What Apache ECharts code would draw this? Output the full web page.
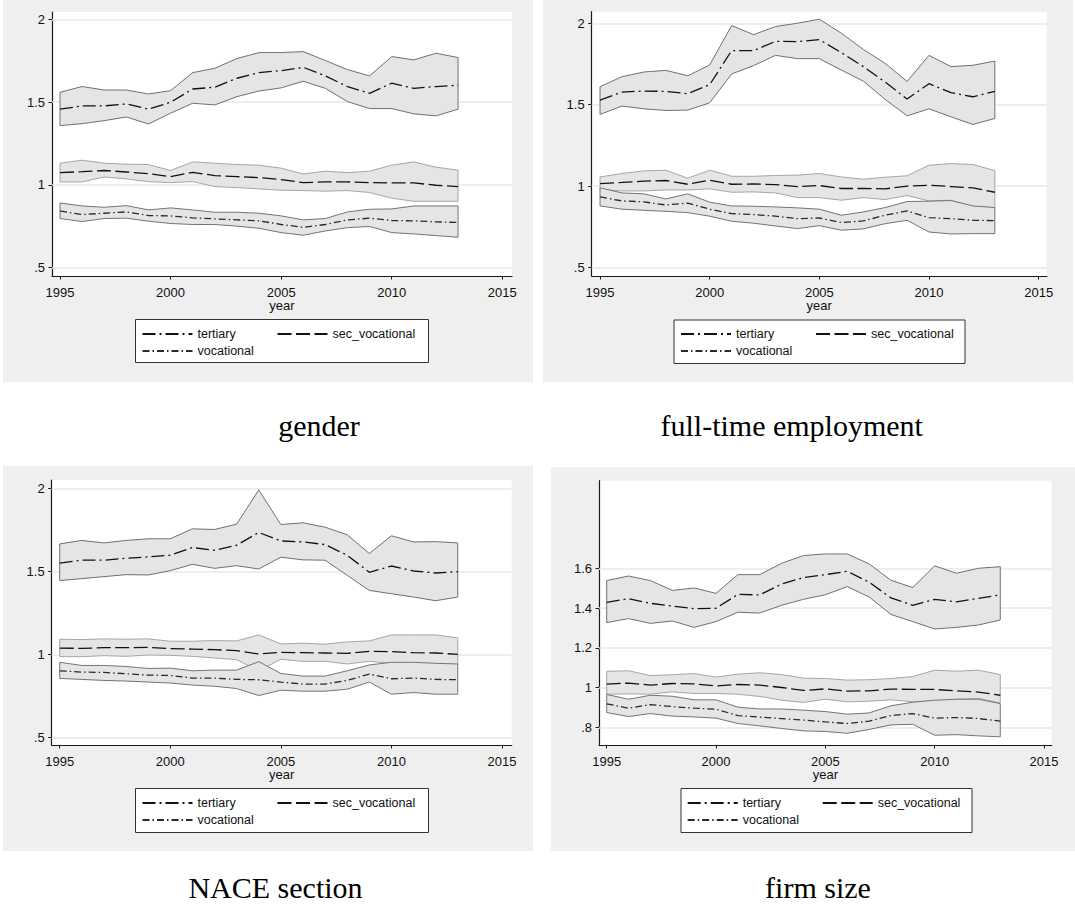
<!DOCTYPE html>
<html>
<head>
<meta charset="utf-8">
<title>Relative wages by education, 1995-2013</title>
<script src="https://cdn.jsdelivr.net/npm/echarts@6/dist/echarts.min.js"></script>
<style>
  html, body { margin: 0; padding: 0; background: #ffffff; }
  #chart { width: 1075px; height: 906px; }
</style>
</head>
<body>
<div id="chart"></div>
<script>
// ---- data -----------------------------------------------------------------
const years = [1995, 1996, 1997, 1998, 1999, 2000, 2001, 2002, 2003, 2004,
               2005, 2006, 2007, 2008, 2009, 2010, 2011, 2012, 2013];
const xTicks = [1995, 2000, 2005, 2010, 2015];
const yTicksHalf = [0.5, 1, 1.5, 2];
const yTicksFirm = [0.8, 1, 1.2, 1.4, 1.6];
const seriesNames = ['tertiary', 'sec_vocational', 'vocational'];
const panelTitles = ['gender', 'full-time employment', 'NACE section', 'firm size'];

// gender
const genderTerHi   = [1.559,1.594,1.573,1.573,1.549,1.569,1.678,1.704,1.763,1.799,1.799,1.805,1.751,1.696,1.658,1.775,1.755,1.795,1.769];
const genderTer     = [1.457,1.477,1.477,1.489,1.457,1.499,1.579,1.590,1.644,1.678,1.690,1.710,1.658,1.594,1.553,1.614,1.583,1.594,1.602];
const genderTerLo   = [1.358,1.370,1.388,1.410,1.368,1.433,1.493,1.483,1.533,1.567,1.586,1.626,1.583,1.503,1.461,1.461,1.429,1.417,1.457];
const genderSecHi   = [1.131,1.149,1.131,1.125,1.123,1.087,1.139,1.131,1.123,1.119,1.101,1.066,1.083,1.074,1.083,1.119,1.139,1.107,1.089];
const genderSec     = [1.074,1.080,1.087,1.078,1.068,1.050,1.076,1.056,1.050,1.044,1.032,1.014,1.018,1.018,1.014,1.012,1.012,0.998,0.990];
const genderSecLo   = [1.018,1.018,1.048,1.036,1.020,1.014,1.020,0.990,0.984,0.976,0.968,0.966,0.962,0.966,0.954,0.920,0.901,0.901,0.901];
const genderVocHi   = [0.891,0.873,0.865,0.875,0.849,0.861,0.849,0.835,0.835,0.829,0.813,0.789,0.797,0.837,0.853,0.855,0.873,0.873,0.873];
const genderVoc     = [0.843,0.821,0.829,0.837,0.815,0.813,0.801,0.795,0.789,0.783,0.761,0.744,0.761,0.789,0.799,0.785,0.783,0.777,0.773];
const genderVocLo   = [0.797,0.779,0.797,0.799,0.781,0.767,0.761,0.761,0.751,0.738,0.712,0.696,0.722,0.742,0.749,0.712,0.704,0.694,0.684];

// full-time employment
const fulltimeTerHi = [1.611,1.672,1.701,1.711,1.678,1.744,1.986,1.930,1.980,2.000,2.025,1.939,1.840,1.754,1.643,1.803,1.734,1.742,1.768];
const fulltimeTer   = [1.529,1.578,1.584,1.582,1.568,1.623,1.832,1.832,1.889,1.887,1.900,1.820,1.734,1.639,1.535,1.629,1.574,1.549,1.582];
const fulltimeTerLo = [1.441,1.492,1.475,1.465,1.467,1.512,1.689,1.740,1.803,1.783,1.783,1.713,1.645,1.533,1.432,1.475,1.426,1.379,1.416];
const fulltimeSecHi = [1.057,1.078,1.094,1.098,1.049,1.098,1.061,1.061,1.066,1.068,1.078,1.057,1.043,1.055,1.064,1.129,1.139,1.133,1.096];
const fulltimeSec   = [1.016,1.023,1.031,1.035,1.012,1.037,1.012,1.014,1.010,0.998,1.004,0.986,0.986,0.984,1.000,1.006,0.998,0.990,0.963];
const fulltimeSecLo = [0.980,0.971,0.971,0.977,0.977,0.984,0.963,0.965,0.959,0.930,0.930,0.914,0.930,0.918,0.943,0.910,0.914,0.875,0.869];
const fulltimeVocHi = [0.990,0.959,0.953,0.922,0.953,0.902,0.879,0.877,0.873,0.867,0.859,0.822,0.842,0.869,0.906,0.908,0.912,0.879,0.869];
const fulltimeVoc   = [0.934,0.910,0.904,0.885,0.896,0.859,0.832,0.826,0.816,0.801,0.805,0.777,0.787,0.822,0.848,0.807,0.801,0.791,0.789];
const fulltimeVocLo = [0.879,0.859,0.852,0.846,0.838,0.816,0.785,0.773,0.756,0.740,0.758,0.730,0.738,0.770,0.791,0.719,0.707,0.709,0.709];

// NACE section
const naceTerHi     = [1.667,1.688,1.673,1.688,1.698,1.698,1.758,1.754,1.786,1.992,1.784,1.794,1.768,1.722,1.609,1.716,1.679,1.681,1.673];
const naceTer       = [1.552,1.569,1.569,1.581,1.589,1.599,1.645,1.629,1.659,1.736,1.685,1.679,1.663,1.599,1.496,1.534,1.504,1.492,1.500];
const naceTerLo     = [1.446,1.458,1.470,1.482,1.480,1.506,1.544,1.520,1.536,1.516,1.587,1.571,1.569,1.478,1.387,1.367,1.347,1.325,1.347];
const naceSecHi     = [1.093,1.091,1.095,1.093,1.095,1.081,1.081,1.085,1.083,1.119,1.065,1.069,1.063,1.077,1.083,1.119,1.119,1.119,1.101];
const naceSec       = [1.040,1.038,1.042,1.042,1.044,1.036,1.034,1.030,1.024,1.004,1.014,1.012,1.010,1.008,1.020,1.018,1.012,1.010,1.002];
const naceSecLo     = [0.988,0.988,0.994,0.990,0.998,0.996,0.990,0.980,0.970,0.903,0.972,0.960,0.960,0.944,0.960,0.948,0.933,0.933,0.940];
const naceVocHi     = [0.954,0.935,0.935,0.929,0.917,0.919,0.903,0.907,0.907,0.958,0.887,0.871,0.871,0.903,0.938,0.954,0.954,0.948,0.944];
const naceVoc       = [0.903,0.895,0.893,0.885,0.877,0.875,0.859,0.859,0.851,0.849,0.835,0.823,0.823,0.845,0.883,0.855,0.859,0.851,0.849];
const naceVocLo     = [0.857,0.851,0.845,0.841,0.835,0.829,0.817,0.810,0.796,0.754,0.786,0.780,0.780,0.792,0.835,0.762,0.772,0.762,0.762];

// firm size
const firmTerHi     = [1.538,1.561,1.538,1.489,1.501,1.474,1.568,1.568,1.625,1.664,1.672,1.672,1.622,1.540,1.503,1.612,1.575,1.600,1.608];
const firmTer       = [1.429,1.447,1.424,1.410,1.397,1.399,1.469,1.466,1.521,1.553,1.568,1.585,1.530,1.451,1.414,1.444,1.431,1.449,1.466];
const firmTerLo     = [1.327,1.347,1.323,1.335,1.303,1.332,1.379,1.375,1.414,1.444,1.467,1.508,1.456,1.368,1.332,1.295,1.303,1.315,1.340];
const firmSecHi     = [1.082,1.085,1.061,1.065,1.071,1.053,1.068,1.075,1.066,1.048,1.046,1.038,1.040,1.046,1.056,1.088,1.083,1.088,1.066];
const firmSec       = [1.018,1.023,1.013,1.021,1.019,1.009,1.016,1.013,1.001,0.986,0.994,0.983,0.984,0.993,0.991,0.991,0.984,0.978,0.962];
const firmSecLo     = [0.967,0.969,0.967,0.979,0.971,0.971,0.967,0.956,0.937,0.926,0.942,0.929,0.932,0.939,0.929,0.934,0.941,0.946,0.924];
const firmVocHi     = [0.966,0.942,0.962,0.957,0.939,0.939,0.902,0.893,0.893,0.887,0.880,0.867,0.873,0.909,0.927,0.937,0.942,0.942,0.920];
const firmVoc       = [0.919,0.897,0.915,0.905,0.897,0.892,0.860,0.852,0.845,0.837,0.828,0.820,0.832,0.860,0.870,0.847,0.850,0.845,0.832];
const firmVocLo     = [0.875,0.855,0.870,0.857,0.853,0.847,0.820,0.808,0.795,0.783,0.780,0.771,0.790,0.813,0.816,0.761,0.764,0.758,0.753];

// ---- layout and styling ---------------------------------------------------
const SANS = '"Liberation Sans", Arial, Helvetica, sans-serif';
const SERIF = '"Liberation Serif", "Times New Roman", serif';
const PANEL_BG = '#efefef';
const BAND_FILL = '#e5e5e5';
const GRIDLINE = '#e9e9e9';

// line patterns: long dash-dot, long dash, short dash-dot
const lineStyles = [
  { color: '#111111', width: 1.3, type: [13, 4, 2, 4] },
  { color: '#111111', width: 1.3, type: [14, 4.5] },
  { color: '#2a2a2a', width: 1.3, type: [7, 3, 1.5, 3] }
];
const bandStroke = ['#707070', '#a6a6a6', '#747474'];

const panels = [
  { mean: [genderTer, genderSec, genderVoc], lo: [genderTerLo, genderSecLo, genderVocLo], hi: [genderTerHi, genderSecHi, genderVocHi],
    yTicks: yTicksHalf, grid: { left: 52, top: 12, width: 460, height: 264 },
    x: [1994.638, 2015.439], y: [0.450, 2.044],
    bg: [3, 0, 530, 382], legend: { box: [135, 319, 293, 43], left: 141.5, top: 327.5 },
    caption: { x: 319, y: 425.5 } },
  { mean: [fulltimeTer, fulltimeSec, fulltimeVoc], lo: [fulltimeTerLo, fulltimeSecLo, fulltimeVocLo], hi: [fulltimeTerHi, fulltimeSecHi, fulltimeVocHi],
    yTicks: yTicksHalf, grid: { left: 591.7, top: 11.7, width: 455, height: 264.3 },
    x: [1994.62, 2015.365], y: [0.449, 2.071],
    bg: [543, 0, 530, 382], legend: { box: [673.5, 319.5, 291, 43.5], left: 680, top: 327.5 },
    caption: { x: 791.7, y: 425.5 } },
  { mean: [naceTer, naceSec, naceVoc], lo: [naceTerLo, naceSecLo, naceVocLo], hi: [naceTerHi, naceSecHi, naceVocHi],
    yTicks: yTicksHalf, grid: { left: 51.7, top: 480, width: 460, height: 265 },
    x: [1994.638, 2015.439], y: [0.456, 2.052],
    bg: [3, 466, 530, 385], legend: { box: [135, 788, 293, 44], left: 141.5, top: 796.5 },
    caption: { x: 275.5, y: 887.5 } },
  { mean: [firmTer, firmSec, firmVoc], lo: [firmTerLo, firmSecLo, firmVocLo], hi: [firmTerHi, firmSecHi, firmVocHi],
    yTicks: yTicksFirm, grid: { left: 599, top: 480.7, width: 452.7, height: 264.3 },
    x: [1994.648, 2015.352], y: [0.712, 2.040],
    bg: [551, 467, 524, 384], legend: { box: [680.5, 788, 291, 44], left: 686.7, top: 796.5 },
    caption: { x: 818, y: 887.5 } }
];

function tickLabel(v) {
  // Stata-style labels: leading zero dropped
  const s = String(Math.round(v * 10) / 10);
  return s.startsWith('0.') ? s.slice(1) : s;
}

// Confidence band drawn as one closed polygon through the axis scales
function bandSeries(p, k, gi) {
  const lo = p.lo[k], hi = p.hi[k];
  return {
    type: 'custom',
    name: seriesNames[k] + ' band',
    xAxisIndex: gi, yAxisIndex: gi,
    coordinateSystem: 'cartesian2d',
    silent: true,
    z: 2 + k * 0.1,
    data: years.map((yr, i) => [yr, lo[i], hi[i]]),
    encode: { x: 0, y: [1, 2] },
    renderItem: function (params, api) {
      if (params.dataIndex !== 0) return null;
      const pts = [];
      for (let i = 0; i < years.length; i++) pts.push(api.coord([years[i], hi[i]]));
      for (let i = years.length - 1; i >= 0; i--) pts.push(api.coord([years[i], lo[i]]));
      return {
        type: 'polygon',
        shape: { points: pts },
        style: { fill: BAND_FILL, stroke: bandStroke[k], lineWidth: 1 }
      };
    }
  };
}

const grids = [], xAxes = [], yAxes = [], series = [], legends = [], graphics = [];

panels.forEach((p, gi) => {
  grids.push(Object.assign({ show: true, backgroundColor: '#ffffff', borderWidth: 0, containLabel: false }, p.grid));

  xAxes.push({
    type: 'value', gridIndex: gi, min: p.x[0], max: p.x[1],
    name: 'year', nameLocation: 'middle', nameGap: 21,
    nameTextStyle: { fontFamily: SANS, fontSize: 13, color: '#111' },
    axisLine: { show: true, onZero: false, lineStyle: { color: '#1a1a1a', width: 1.2 } },
    axisTick: { show: true, length: 3.5, customValues: xTicks, lineStyle: { color: '#1a1a1a', width: 1 } },
    axisLabel: { customValues: xTicks, margin: 9.5, fontFamily: SANS, fontSize: 13, color: '#111',
                 formatter: v => String(v) },
    splitLine: { show: false }
  });

  yAxes.push({
    type: 'value', gridIndex: gi, min: p.y[0], max: p.y[1],
    axisLine: { show: true, onZero: false, lineStyle: { color: '#1a1a1a', width: 1.2 } },
    axisTick: { show: true, length: 3.5, customValues: p.yTicks, lineStyle: { color: '#1a1a1a', width: 1 } },
    axisLabel: { customValues: p.yTicks, margin: 7, fontFamily: SANS, fontSize: 13, color: '#111',
                 formatter: tickLabel },
    splitLine: { show: false }
  });

  // horizontal grid lines at the labelled y values, kept beneath the bands
  series.push({
    type: 'line', name: 'grid lines', xAxisIndex: gi, yAxisIndex: gi,
    data: [], silent: true, z: 1, showSymbol: false,
    markLine: {
      silent: true, z: 1, symbol: ['none', 'none'], animation: false,
      label: { show: false },
      lineStyle: { color: GRIDLINE, width: 1.6, type: 'solid' },
      emphasis: { disabled: true },
      data: p.yTicks.map(v => ({ yAxis: v }))
    }
  });

  for (let k = 0; k < 3; k++) series.push(bandSeries(p, k, gi));

  for (let k = 0; k < 3; k++) {
    series.push({
      type: 'line', name: seriesNames[k], xAxisIndex: gi, yAxisIndex: gi,
      data: years.map((yr, i) => [yr, p.mean[k][i]]),
      symbol: 'none', showSymbol: false, z: 3, silent: true,
      itemStyle: { color: lineStyles[k].color },
      lineStyle: lineStyles[k],
      emphasis: { disabled: true }
    });
  }

  legends.push({
    data: seriesNames, left: p.legend.left, top: p.legend.top,
    orient: 'horizontal', width: 300, padding: 0,
    itemWidth: 50, itemHeight: 13, itemGap: 4,
    selectedMode: false, z: 6,
    // line-only keys: the marker in the middle of each key is hidden
    itemStyle: { color: 'rgba(0,0,0,0)', borderWidth: 0, opacity: 0 },
    textStyle: { fontFamily: SANS, fontSize: 12.5, color: '#111', width: 75, lineHeight: 13 }
  });

  const b = p.bg, lb = p.legend.box;
  graphics.push({ type: 'rect', z: -100, shape: { x: b[0], y: b[1], width: b[2], height: b[3] },
                  style: { fill: PANEL_BG }, silent: true });
  graphics.push({ type: 'rect', z: 5, shape: { x: lb[0] + 0.5, y: lb[1] + 0.5, width: lb[2], height: lb[3] },
                  style: { fill: '#ffffff', stroke: '#333333', lineWidth: 1 }, silent: true });
  graphics.push({ type: 'text', z: 5, x: p.caption.x, y: p.caption.y, silent: true,
                  style: { text: panelTitles[gi], font: '30px ' + SERIF, fill: '#000000',
                           lineHeight: 30, align: 'center', verticalAlign: 'middle' } });
});

const chart = echarts.init(document.getElementById('chart'), null, { renderer: 'svg', width: 1075, height: 906 });
chart.setOption({
  backgroundColor: '#ffffff',
  animation: false,
  grid: grids,
  xAxis: xAxes,
  yAxis: yAxes,
  legend: legends,
  graphic: { elements: graphics },
  series: series
});
</script>
</body>
</html>
